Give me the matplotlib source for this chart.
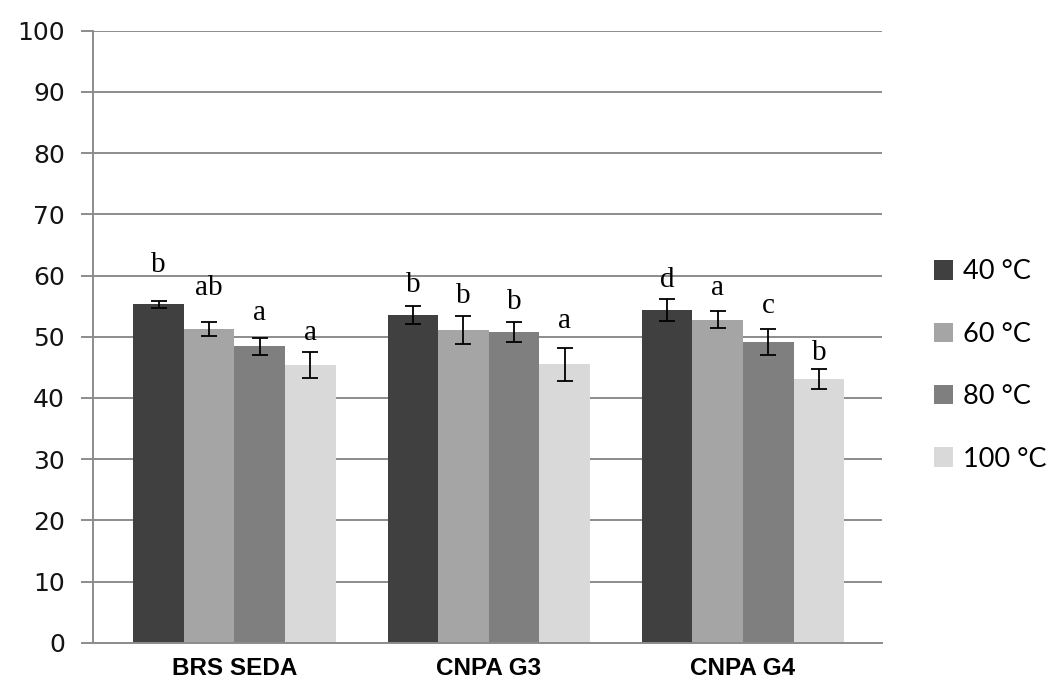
import numpy as np
import matplotlib.pyplot as plt
from matplotlib.patches import Patch

# cultivars and drying temperatures
cultivars = ["BRS SEDA", "CNPA G3", "CNPA G4"]
temps = ["40 °C", "60 °C", "80 °C", "100 °C"]

# mean values (rows = temperature, columns = cultivar)
means = np.array([
    [55.3, 53.5, 54.3],
    [51.2, 51.1, 52.8],
    [48.4, 50.8, 49.1],
    [45.4, 45.5, 43.1],
])

# standard deviations
errs = np.array([
    [0.55, 1.45, 1.8],
    [1.15, 2.3, 1.4],
    [1.4, 1.6, 2.1],
    [2.1, 2.7, 1.65],
])

# significance letters
letters = [
    ["b", "b", "d"],
    ["ab", "b", "a"],
    ["a", "b", "c"],
    ["a", "a", "b"],
]

colors = ["#404040", "#a5a5a5", "#7f7f7f", "#d9d9d9"]

fig = plt.figure(figsize=(10.5, 6.82), dpi=100)
ax = fig.add_axes([0.0889, 0.0576, 0.7511, 0.8974])

x = np.arange(len(cultivars))
width = 0.199

# space between the top of the error bar and its letter
lift = [
    [4.8, 2.4, 2.1],
    [4.5, 2.1, 2.6],
    [3.0, 2.2, 2.7],
    [2.0, 3.2, 1.5],
]

for i in range(len(temps)):
    pos = x + (i - 1.5) * width
    ax.bar(pos, means[i], width, color=colors[i], zorder=2)
    ax.errorbar(pos, means[i], yerr=errs[i], fmt="none", ecolor="black",
                elinewidth=1.3, capsize=5.5, capthick=1.3, zorder=3)
    for j in range(len(cultivars)):
        ax.text(pos[j], means[i][j] + errs[i][j] + lift[i][j], letters[i][j],
                ha="center", va="baseline", fontsize=21,
                family="Liberation Serif")

# axis limits and grid
ax.set_ylim(0, 100)
ax.set_xlim(-0.555, 2.547)
ax.set_yticks(np.arange(0, 101, 10))
ax.yaxis.grid(True, color="#8c8c8c", linewidth=1.4, zorder=0)
ax.set_axisbelow(True)

for side in ["top", "right"]:
    ax.spines[side].set_visible(False)
ax.spines["left"].set_color("#8c8c8c")
ax.spines["left"].set_linewidth(1.4)
ax.spines["bottom"].set_color("#8c8c8c")
ax.spines["bottom"].set_linewidth(1.4)

ax.tick_params(axis="y", length=8.5, width=1.4, color="#8c8c8c",
               labelsize=18, pad=12, labelcolor="#141414")
ax.tick_params(axis="x", length=0, pad=10)
ax.set_xticks(x)
ax.set_xticklabels(cultivars, fontsize=17.5, fontweight="bold",
                   family="Liberation Sans")

# legend with square swatches
handles = [Patch(facecolor=c, edgecolor="none") for c in colors]
fig.legend(handles, temps, loc="center left", bbox_to_anchor=(0.866, 0.464),
           frameon=False, prop={"family": "Lato", "size": 19.5},
           handlelength=0.72, handleheight=0.72, handletextpad=0.35,
           labelspacing=1.38)

fig.savefig("out.png", dpi=100)
